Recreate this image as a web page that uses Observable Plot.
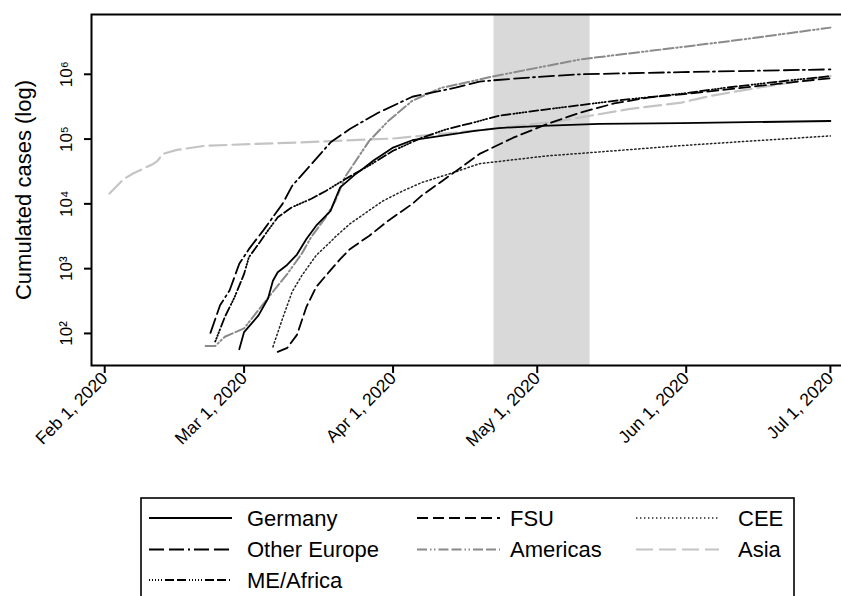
<!DOCTYPE html>
<html><head><meta charset="utf-8">
<script src="https://cdn.jsdelivr.net/npm/d3@7"></script>
<script src="https://cdn.jsdelivr.net/npm/@observablehq/plot@0.6"></script>
<style>
html,body{margin:0;padding:0;background:#fff;}
#chart svg,#legend svg{display:block;}
</style></head><body><div id="chart"></div><div id="legend"></div><script>
// ---------- data ----------
const germanyDates = ["2020-02-29","2020-03-01","2020-03-04","2020-03-06","2020-03-07","2020-03-08","2020-03-10","2020-03-12","2020-03-14","2020-03-16","2020-03-19","2020-03-20","2020-03-21","2020-03-24","2020-03-26","2020-03-28","2020-03-30","2020-04-01","2020-04-05","2020-04-11","2020-04-18","2020-04-23","2020-05-02","2020-05-14","2020-05-31","2020-07-01"];
const germanyCases = [57,105,190,350,650,880,1150,1650,2900,4600,7800,12000,18000,28000,36000,47000,59000,74000,96000,112000,134000,148000,160000,172000,176000,190000];

const otherEuropeDates = ["2020-02-23","2020-02-25","2020-02-27","2020-02-29","2020-03-02","2020-03-05","2020-03-09","2020-03-11","2020-03-15","2020-03-19","2020-03-23","2020-03-29","2020-04-05","2020-04-14","2020-04-19","2020-04-22","2020-05-01","2020-05-10","2020-05-31","2020-07-01"];
const otherEuropeCases = [102,272,464,1190,2000,3900,10000,19000,41000,89000,143000,257000,450000,622000,770000,809000,910000,1000000,1080000,1190000];

const meAfricaDates = ["2020-02-24","2020-02-26","2020-02-28","2020-03-01","2020-03-02","2020-03-04","2020-03-06","2020-03-08","2020-03-11","2020-03-15","2020-03-18","2020-03-22","2020-03-27","2020-04-01","2020-04-07","2020-04-12","2020-04-18","2020-04-23","2020-05-03","2020-05-17","2020-05-31","2020-06-09","2020-06-23","2020-07-01"];
const meAfricaCases = [75,180,360,830,1500,2400,3900,6200,8900,12000,15800,24000,39000,66000,105000,141000,182000,229000,288000,389000,501000,617000,813000,933000];

const fsuDates = ["2020-03-08","2020-03-10","2020-03-12","2020-03-14","2020-03-16","2020-03-19","2020-03-21","2020-03-23","2020-03-27","2020-03-31","2020-04-05","2020-04-07","2020-04-13","2020-04-19","2020-04-26","2020-05-03","2020-05-10","2020-05-17","2020-05-24","2020-05-31","2020-06-16","2020-07-01"];
const fsuCases = [52,60,95,260,520,950,1400,2000,3200,5500,10000,13500,28000,59000,105000,170000,257000,355000,437000,490000,660000,870000];

const americasDates = ["2020-02-22","2020-02-24","2020-02-26","2020-03-01","2020-03-04","2020-03-07","2020-03-10","2020-03-13","2020-03-15","2020-03-18","2020-03-20","2020-03-22","2020-03-27","2020-03-31","2020-04-05","2020-04-11","2020-04-16","2020-04-22","2020-05-10","2020-05-31","2020-06-13","2020-07-01"];
const americasCases = [64,64,89,120,230,440,830,1700,3100,6200,11200,26000,93000,190000,390000,617000,741000,933000,1700000,2630000,3470000,5250000];

const ceeDates = ["2020-03-07","2020-03-09","2020-03-11","2020-03-13","2020-03-16","2020-03-19","2020-03-20","2020-03-23","2020-03-27","2020-03-30","2020-04-03","2020-04-07","2020-04-13","2020-04-19","2020-05-03","2020-05-12","2020-05-31","2020-07-01"];
const ceeCases = [62,170,440,780,1600,2600,3100,4900,7900,11200,15800,21400,29500,41700,55000,61700,79400,112000];

const asiaDates = ["2020-02-02","2020-02-05","2020-02-07","2020-02-11","2020-02-12","2020-02-13","2020-02-16","2020-02-22","2020-03-13","2020-04-01","2020-04-19","2020-05-06","2020-05-12","2020-05-20","2020-05-31","2020-06-06","2020-06-16","2020-07-01"];
const asiaCases = [14500,24300,29600,41000,46000,58700,68000,79000,89000,102000,137000,191000,229000,290000,366000,463000,622000,942000];

const shadeStart = "2020-04-22";
const shadeEnd = "2020-05-12";

const xTickDates = ["2020-02-01","2020-03-01","2020-04-01","2020-05-01","2020-06-01","2020-07-01"];
const xTickLabels = ["Feb 1, 2020","Mar 1, 2020","Apr 1, 2020","May 1, 2020","Jun 1, 2020","Jul 1, 2020"];
const yTicks = [1e2, 1e3, 1e4, 1e5, 1e6];
const yTickLabels = ["10\u00B2","10\u00B3","10\u2074","10\u2075","10\u2076"];
const yTitle = "Cumulated cases (log)";

const seriesNames = ["Germany","Other Europe","ME/Africa","FSU","Americas","CEE","Asia"];
const legendOrder = ["Germany","FSU","CEE","Other Europe","Americas","Asia","ME/Africa"];

// ---------- styles ----------
const parse = d3.utcParse("%Y-%m-%d");
const styles = {
  "Germany":      {stroke: "#000", dash: null, width: 1.8},
  "Other Europe": {stroke: "#000", dash: "15,5,15,4,2,4", width: 1.8},
  "ME/Africa":    {stroke: "#000", dash: "1,2,1,2,1,2,1,2,1,3,9,3,9,3", width: 1.8},
  "FSU":          {stroke: "#000", dash: "11,5", width: 1.8},
  "Americas":     {stroke: "#8a8a8a", dash: "10,3,1.5,2.5,1.5,3,10,3", width: 2},
  "CEE":          {stroke: "#222", dash: "1.4,2.6", width: 1.5},
  "Asia":         {stroke: "#c4c4c4", dash: "17,6", width: 2.2}
};
const seriesData = {
  "Germany": [germanyDates, germanyCases],
  "Other Europe": [otherEuropeDates, otherEuropeCases],
  "ME/Africa": [meAfricaDates, meAfricaCases],
  "FSU": [fsuDates, fsuCases],
  "Americas": [americasDates, americasCases],
  "CEE": [ceeDates, ceeCases],
  "Asia": [asiaDates, asiaCases]
};
const rows = seriesNames.flatMap(name => {
  const [ds, vs] = seriesData[name];
  return ds.map((d, i) => ({name, date: parse(d), value: vs[i]}));
});
const drawOrder = ["Asia","Americas","CEE","ME/Africa","FSU","Other Europe","Germany"];

const xDomain = [new Date(Date.UTC(2020,0,29,6)), new Date(Date.UTC(2020,6,4,8,24))];
const tickDates = xTickDates.map(parse);
const tickLabelOf = new Map(tickDates.map((d,i)=>[+d, xTickLabels[i]]));
const FONT = "'Liberation Sans', Arial, Helvetica, sans-serif";

const chart = Plot.plot({
  width: 841, height: 490,
  marginLeft: 91, marginTop: 14, marginBottom: 125, marginRight: -5,
  style: {fontFamily: FONT, background: "white", color: "#000"},
  x: {type: "utc", domain: xDomain},
  y: {type: "log", domain: [32, 8.37e6]},
  marks: [
    Plot.rect([{a: parse(shadeStart), b: parse(shadeEnd)}], {x1: "a", x2: "b", fill: "#d9d9d9"}),
    ...drawOrder.map(name => Plot.line(rows.filter(r => r.name === name), {
      x: "date", y: "value", stroke: styles[name].stroke,
      strokeWidth: styles[name].width, strokeDasharray: styles[name].dash,
      strokeLinejoin: "round"
    })),
    Plot.axisX({ticks: tickDates, tickFormat: d => tickLabelOf.get(+d), tickRotate: -45,
      tickSize: 8, tickPadding: 2, fontSize: 17.5, label: null, strokeWidth: 2}),
    Plot.axisY({ticks: yTicks, tickFormat: () => "", tickSize: 7, label: null, strokeWidth: 2}),
    Plot.text(yTicks, {y: d => d, text: (d, i) => yTickLabels[i], frameAnchor: "left", dx: -25,
      rotate: -90, fontSize: 17, textAnchor: "middle", lineAnchor: "middle"}),
    Plot.text([yTitle], {text: d => d, frameAnchor: "left", dx: -68, rotate: -90, fontSize: 22,
      textAnchor: "middle", lineAnchor: "middle"}),
    Plot.frame({stroke: "#000", strokeWidth: 2})
  ]
});
document.getElementById("chart").appendChild(chart);

// ---------- legend ----------
const colSample = [149, 417, 636];
const colText = [247, 510, 738];
const rowY = [28, 59.5, 90];
const lsvg = d3.select("#legend").append("svg").attr("width", 841).attr("height", 106)
  .style("font-family", FONT);
lsvg.append("rect").attr("x", 141).attr("y", 8).attr("width", 653).attr("height", 130)
  .attr("fill", "none").attr("stroke", "#000").attr("stroke-width", 1.6);
legendOrder.forEach((name, i) => {
  const c = i % 3, r = Math.floor(i / 3);
  const s = styles[name];
  lsvg.append("line").attr("x1", colSample[c]).attr("x2", colSample[c] + 83)
    .attr("y1", rowY[r]).attr("y2", rowY[r])
    .attr("stroke", s.stroke).attr("stroke-width", s.width)
    .attr("stroke-dasharray", s.dash);
  lsvg.append("text").attr("x", colText[c]).attr("y", rowY[r]).attr("dy", "0.35em")
    .attr("font-size", 22).attr("fill", "#000").text(name);
});
</script></body></html>
